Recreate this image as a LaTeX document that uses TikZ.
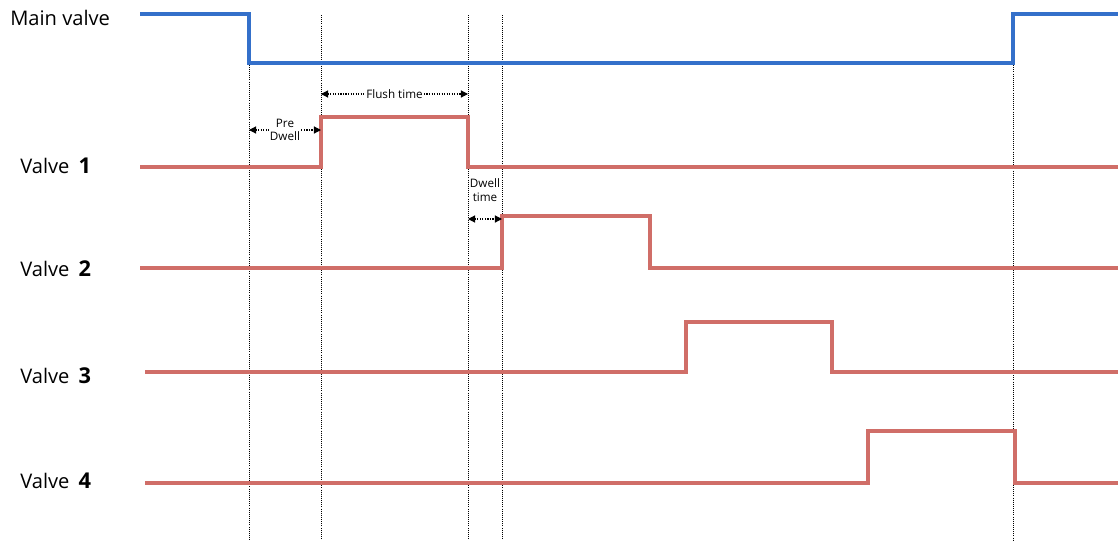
\documentclass[tikz,border=0pt]{standalone}
\usepackage{fontspec}
\setmainfont{Open Sans}
\usetikzlibrary{arrows.meta,positioning,calc}
\definecolor{cmain}{RGB}{52,112,202}
\definecolor{cvalve}{RGB}{208,110,104}
\tikzset{
  mainline/.style={cmain,line width=2.2pt},
  valveline/.style={cvalve,line width=2.2pt},
  guide/.style={black,densely dotted,line width=0.5pt},
  span/.style={densely dotted,line width=0.8pt,{Triangle[length=5pt,width=5pt]}-{Triangle[length=5pt,width=5pt]}},
  vlabel/.style={anchor=west,font=\fontsize{14.3}{16}\selectfont,inner sep=0pt},
  tlabel/.style={font=\fontsize{8.3}{9.5}\selectfont,fill=white,inner sep=0.8pt,align=center}
}
\newcommand{\vnum}[1]{\hspace{0.45em}\textbf{\fontsize{15.5}{16}\selectfont #1}}
\begin{document}
\begin{tikzpicture}[x=0.025cm,y=-0.025cm]
    \useasboundingbox (0,0) rectangle (1118,540);
    % time markers
    \coordinate (t1) at (249,0);
    \coordinate (t2) at (321,0);
    \coordinate (t3) at (468,0);
    \coordinate (t4) at (502,0);
    \coordinate (t5) at (1013,0);
    \draw[guide] (249,14) -- (249,540);
    \draw[guide] (321,15) -- (321,540);
    \draw[guide] (468,15) -- (468,540);
    \draw[guide] (502,15) -- (502,540);
    \draw[guide] (1013,63) -- (1013,540);
    % labels
    \node[vlabel] (lmain) at (10,18) {Main valve};
    \node[vlabel] (lv1) at (20,166) {Valve\vnum{1}};
    \node[vlabel] (lv2) at (20,269) {Valve\vnum{2}};
    \node[vlabel] (lv3) at (20,376) {Valve\vnum{3}};
    \node[vlabel] (lv4) at (20,481) {Valve\vnum{4}};
    % waveforms
    \draw[mainline] (140,14) -- (249,14) -- (249,63) -- (1013,63) -- (1013,14) -- (1118,14);
    \draw[valveline] (140,167) -- (321,167) -- (321,117) -- (468,117) -- (468,167) -- (1118,167);
    \draw[valveline] (140,268) -- (502,268) -- (502,216) -- (650,216) -- (650,268) -- (1118,268);
    \draw[valveline] (145,372) -- (686,372) -- (686,322) -- (832,322) -- (832,372) -- (1118,372);
    \draw[valveline] (145,483) -- (868,483) -- (868,431) -- (1015,431) -- (1015,483) -- (1118,483);
    % spans
    \draw[span] (t1 |- 0,130) -- node[tlabel] (pre) {Pre\\Dwell} (t2 |- 0,130);
    \draw[span] (t2 |- 0,94) -- node[tlabel] (flush) {Flush time} (t3 |- 0,94);
    \draw[span] (t3 |- 0,219) -- (t4 |- 0,219);
    \node[tlabel,fill=none] (dwell) at (485,190) {Dwell\\time};
\end{tikzpicture}
\end{document}
